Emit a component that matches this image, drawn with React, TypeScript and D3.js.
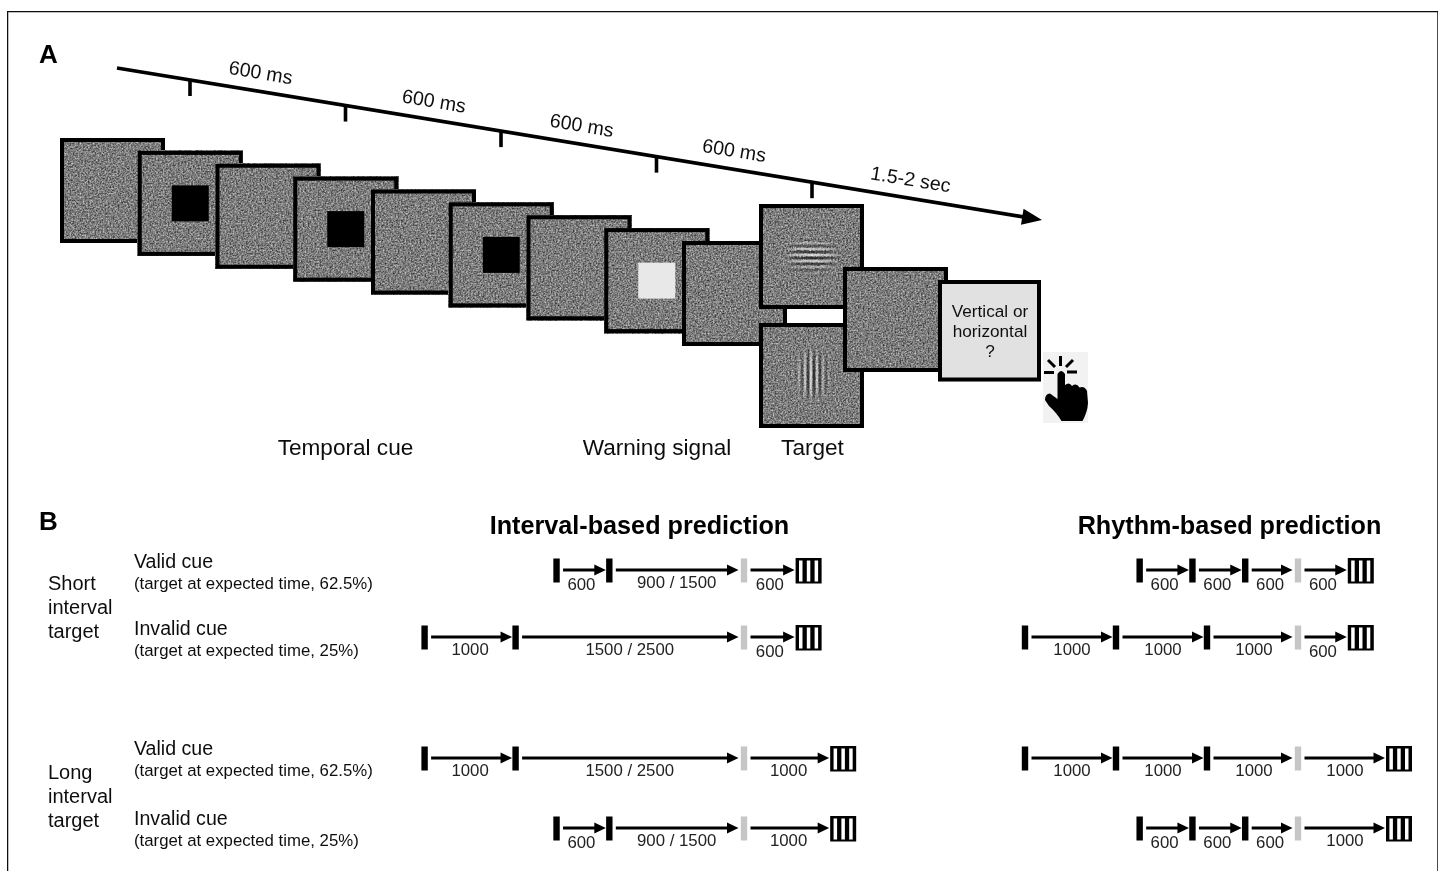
import React from "react";
import * as d3 from "d3";

const FONT = "'Liberation Sans', Arial, sans-serif";

// ---- Panel A data ----
const frameKinds = ["noise", "cue", "noise", "cue", "noise", "cue", "noise", "warning", "noise"];
const timelineTicks = [0, 1, 2, 3, 4];
const timelineLabels = ["600 ms", "600 ms", "600 ms", "600 ms", "1.5-2 sec"];
const timelineLabelSlots = [0.455, 1.57, 2.52, 3.5, 4.635];
const stageLabels = ["Temporal cue", "Warning signal", "Target"];
const responseLines = ["Vertical or", "horizontal", "?"];

// ---- Panel B data: each span is the drawn time in ms, counted back from the warning signal ----
const intervalRows = [
  { before: [580, 1480], after: 600, labels: ["600", "900 / 1500", "600"] },
  { before: [1000, 2510], after: 600, labels: ["1000", "1500 / 2500", "600"] },
  { before: [1000, 2510], after: 980, labels: ["1000", "1500 / 2500", "1000"] },
  { before: [580, 1480], after: 980, labels: ["600", "900 / 1500", "1000"] },
];
const rhythmRows = [
  { before: [580, 580, 580], after: 580, labels: ["600", "600", "600", "600"] },
  { before: [1000, 1000, 1000], after: 580, labels: ["1000", "1000", "1000", "600"] },
  { before: [1000, 1000, 1000], after: 1000, labels: ["1000", "1000", "1000", "1000"] },
  { before: [580, 580, 580], after: 1000, labels: ["600", "600", "600", "1000"] },
];
const rowArrowY = [570, 637, 758, 828];
const rowText = [
  { title: "Valid cue", sub: "(target at expected time, 62.5%)" },
  { title: "Invalid cue", sub: "(target at expected time, 25%)" },
  { title: "Valid cue", sub: "(target at expected time, 62.5%)" },
  { title: "Invalid cue", sub: "(target at expected time, 25%)" },
];
const rowTitleBaseline = [568, 635, 755, 825];
const rowSubBaseline = [589, 656, 776, 846];
const groupLines = [
  { lines: ["Short", "interval", "target"], baseline: 590 },
  { lines: ["Long", "interval", "target"], baseline: 779 },
];

// ---- Scales ----
const timelineY = d3.scaleLinear().domain([117, 1042]).range([68, 220]);
const tickX = d3.scaleLinear().domain([0, 4]).range([190, 812]);
const frameX = d3.scaleLinear().domain([0, 8]).range([60, 682]);
const frameY = d3.scaleLinear().domain([0, 8]).range([138, 241]);
const msPx = d3.scaleLinear().domain([0, 1000]).range([0, 91]);
const responseY = d3.scaleLinear().domain([0, 2]).range([317, 357]);
const SIZE = 105;
const BW = 4;

function Frame({ x, y, w = SIZE, h = SIZE, fill }: { x: number; y: number; w?: number; h?: number; fill?: string }) {
  return (
    <g>
      {fill ? (
        <rect x={x} y={y} width={w} height={h} fill={fill} />
      ) : (
        <rect x={x} y={y} width={w} height={h} fill="#808080" filter="url(#noise)" />
      )}
      <rect x={x + BW / 2} y={y + BW / 2} width={w - BW} height={h - BW} fill="none" stroke="#000" strokeWidth={BW} />
    </g>
  );
}

function Gabor({ cx, cy, vertical }: { cx: number; cy: number; vertical: boolean }) {
  const offs = d3.range(-5, 6);
  const period = 6;
  const half = 30;
  const maskId = vertical ? "maskV" : "maskH";
  return (
    <g mask={`url(#${maskId})`}>
      {offs.map((i) => {
        const o = i * period;
        const op = Math.exp((-i * i) / 8);
        return [0, 1].map((s) => {
          const d = o + (s * period) / 2;
          const color = s === 0 ? "#fafafa" : "#0c0c0c";
          const opacity = op * 0.72;
          return vertical ? (
            <line key={`${i}${s}`} x1={cx + d - 1} x2={cx + d - 1} y1={cy - half} y2={cy + half} stroke={color} strokeOpacity={opacity} strokeWidth={2.6} />
          ) : (
            <line key={`${i}${s}`} y1={cy + d - 1} y2={cy + d - 1} x1={cx - half} x2={cx + half} stroke={color} strokeOpacity={opacity} strokeWidth={2.2} />
          );
        });
      })}
    </g>
  );
}

function Target({ x, cy }: { x: number; cy: number }) {
  const slits = [3.4, 11.2, 19];
  return (
    <g>
      <rect x={x} y={cy - 13} width={26} height={25.5} fill="#000" />
      {slits.map((s) => (
        <rect key={s} x={x + s} y={cy - 10.5} width={3.5} height={21} fill="#fff" />
      ))}
    </g>
  );
}

function Arrow({ x1, x2, y }: { x1: number; x2: number; y: number }) {
  return (
    <g>
      <line x1={x1} x2={x2 - 8} y1={y} y2={y} stroke="#000" strokeWidth={2.8} />
      <path d={`M${x2},${y} L${x2 - 11.5},${y - 5.5} L${x2 - 11.5},${y + 5.5} Z`} fill="#000" />
    </g>
  );
}

function Row({ row, warnX, y, labelDy, longDx }: { row: { before: number[]; after: number; labels: string[] }; warnX: number; y: number; labelDy: number; longDx: number }) {
  // mark positions, walking back from the warning signal
  const n = row.before.length;
  const xs: number[] = new Array(n + 1);
  xs[n] = warnX;
  for (let i = n - 1; i >= 0; i--) xs[i] = xs[i + 1] - msPx(row.before[i]);
  const targetMark = warnX + msPx(row.after);
  const targetLeft = targetMark - 3;
  const all = [...xs, targetMark];
  return (
    <g>
      {xs.map((x, i) => (
        <rect key={i} x={x - 3.2} y={y - 11.5} width={6.4} height={24} fill={i === n ? "#c6c6c6" : "#000"} />
      ))}
      <Target x={targetLeft} cy={y + 1} />
      {row.labels.map((lab, i) => {
        const a = all[i];
        const b = all[i + 1];
        const tip = i === n ? targetLeft - 1 : i === n - 1 ? b - 5.5 : b - 3.5;
        const short = lab === "600";
        return (
          <g key={i}>
            <Arrow x1={a + 6.5} x2={tip} y={y} />
            <text
              x={(a + b) / 2 + (short ? -1.5 : longDx)}
              y={y + labelDy + (short ? 1.5 : 0)}
              textAnchor="middle"
              fontFamily={FONT}
              fontSize={16.8}
              fill="#222"
            >
              {lab}
            </text>
          </g>
        );
      })}
    </g>
  );
}

export default function App() {
  const headX = 1042;
  const headY = 220;
  const ang = Math.atan2(152, 925);
  const deg = (ang * 180) / Math.PI;
  const headLen = 20;
  const headHalf = 8;
  const headPts = [
    [headX, headY],
    [headX - headLen * Math.cos(ang) + headHalf * Math.sin(ang), headY - headLen * Math.sin(ang) - headHalf * Math.cos(ang)],
    [headX - headLen * Math.cos(ang) - headHalf * Math.sin(ang), headY - headLen * Math.sin(ang) + headHalf * Math.cos(ang)],
  ];
  const lineEnd = headX - 14;

  return (
    <svg
      width={1444}
      height={871}
      viewBox="0 0 1444 871"
      style={{ position: "absolute", left: 0, top: 0, background: "#fff" }}
    >
      <defs>
        <filter id="noise" x="0" y="0" width="100%" height="100%" colorInterpolationFilters="sRGB">
          <feTurbulence type="fractalNoise" baseFrequency="0.6" numOctaves={2} seed={4} />
          <feColorMatrix type="matrix" values="0.85 0 0 0 0.06  0.85 0 0 0 0.06  0.85 0 0 0 0.06  0 0 0 0 1" />
          <feGaussianBlur stdDeviation="0.45" />
        </filter>
        <filter id="soft" x="0" y="0" width="100%" height="100%">
          <feGaussianBlur stdDeviation="0.35" />
        </filter>
        <radialGradient id="gaborFade">
          <stop offset="0%" stopColor="#fff" />
          <stop offset="55%" stopColor="#aaa" />
          <stop offset="100%" stopColor="#000" />
        </radialGradient>
        <mask id="maskH" maskUnits="userSpaceOnUse" x="760" y="205" width="105" height="105">
          <rect x="782" y="230" width="60" height="52" fill="url(#gaborFade)" />
        </mask>
        <mask id="maskV" maskUnits="userSpaceOnUse" x="760" y="323" width="105" height="105">
          <rect x="786" y="346" width="52" height="58" fill="url(#gaborFade)" />
        </mask>
      </defs>

      <g filter="url(#soft)">
        {/* figure border */}
        <path d="M7.5,871 L7.5,11.5 L1438,11.5 L1438,871" fill="none" stroke="#111" strokeWidth={1.5} />

        {/* Panel A */}
        <text x={39} y={63} fontFamily={FONT} fontWeight="bold" fontSize={26} fill="#000">A</text>

        <line x1={117} y1={timelineY(117)} x2={lineEnd} y2={timelineY(lineEnd)} stroke="#000" strokeWidth={3.8} />
        <polygon points={headPts.map((p) => p.join(",")).join(" ")} fill="#000" />
        {timelineTicks.map((t) => (
          <line key={t} x1={tickX(t)} x2={tickX(t)} y1={timelineY(tickX(t))} y2={timelineY(tickX(t)) + 16} stroke="#000" strokeWidth={3.6} />
        ))}
        {timelineLabels.map((lab, i) => {
          const x = tickX(timelineLabelSlots[i]);
          const y = timelineY(x) - 19.5;
          return (
            <text
              key={i}
              transform={`translate(${x},${y}) rotate(${deg})`}
              textAnchor="middle"
              dominantBaseline="central"
              fontFamily={FONT}
              fontSize={19.6}
              fill="#111"
            >
              {lab}
            </text>
          );
        })}

        {frameKinds.map((k, i) => (
          <g key={i}>
            <Frame x={frameX(i)} y={frameY(i)} />
            {k !== "noise" && (
              <rect
                x={frameX(i) + SIZE / 2 - 18.5}
                y={frameY(i) + SIZE / 2 - 18}
                width={37}
                height={36}
                fill={k === "cue" ? "#000" : "#e8e8e8"}
              />
            )}
          </g>
        ))}
        <Frame x={759} y={204} />
        <Gabor cx={812} cy={256} vertical={false} />
        <Frame x={759} y={323} />
        <Gabor cx={812} cy={375} vertical={true} />
        <Frame x={843} y={267} />
        <Frame x={938} y={280} w={103} h={101.5} fill="#e1e1e1" />
        {responseLines.map((t, i) => (
          <text key={i} x={990} y={responseY(i)} textAnchor="middle" fontFamily={FONT} fontSize={17.2} fill="#111">
            {t}
          </text>
        ))}

        {/* hand icon */}
        <g>
          <rect x={1043} y={352} width={45} height={71} fill="#f2f2f2" />
          <path
            d="M1057.5,374 Q1061,368 1065,374 L1065,385 Q1069.5,381.5 1072,386 Q1076.5,382.5 1079.5,387.5 Q1084.5,385.5 1087,391 L1088,403 Q1087.5,412 1082.5,421 L1061.5,421 Q1056,412 1049,406 L1045,400 Q1045,393.5 1050,393.5 L1057.5,399 Z"
            fill="#000"
          />
          <g stroke="#000" strokeWidth={3}>
            <line x1={1060.5} y1={356} x2={1060.5} y2={366} />
            <line x1={1048} y1={360} x2={1055} y2={367} />
            <line x1={1073} y1={360} x2={1066} y2={367} />
            <line x1={1044} y1={372.5} x2={1054} y2={372.5} />
            <line x1={1067} y1={372} x2={1077} y2={372} />
          </g>
        </g>

        {stageLabels.map((t, i) => (
          <text key={t} x={[345.5, 657, 812.5][i]} y={455} textAnchor="middle" fontFamily={FONT} fontSize={22.6} fill="#111">
            {t}
          </text>
        ))}

        {/* Panel B */}
        <text x={39} y={530} fontFamily={FONT} fontWeight="bold" fontSize={26} fill="#000">B</text>
        <text x={639.5} y={534} textAnchor="middle" fontFamily={FONT} fontWeight="bold" fontSize={25.2} fill="#000">Interval-based prediction</text>
        <text x={1229.5} y={534} textAnchor="middle" fontFamily={FONT} fontWeight="bold" fontSize={25.2} fill="#000">Rhythm-based prediction</text>

        {groupLines.map((g, gi) =>
          g.lines.map((t, i) => (
            <text key={`${gi}${i}`} x={48} y={g.baseline + i * 24} fontFamily={FONT} fontSize={20} fill="#111">
              {t}
            </text>
          ))
        )}
        {rowText.map((r, i) => (
          <g key={i}>
            <text x={134} y={rowTitleBaseline[i]} fontFamily={FONT} fontSize={19.6} fill="#111">{r.title}</text>
            <text x={134} y={rowSubBaseline[i]} fontFamily={FONT} fontSize={16.8} fill="#111">{r.sub}</text>
          </g>
        ))}

        {intervalRows.map((r, i) => (
          <Row key={i} row={r} warnX={744} y={rowArrowY[i]} labelDy={18} longDx={0} />
        ))}
        {rhythmRows.map((r, i) => (
          <Row key={i} row={r} warnX={1298} y={rowArrowY[i]} labelDy={18} longDx={1.5} />
        ))}
      </g>
    </svg>
  );
}
